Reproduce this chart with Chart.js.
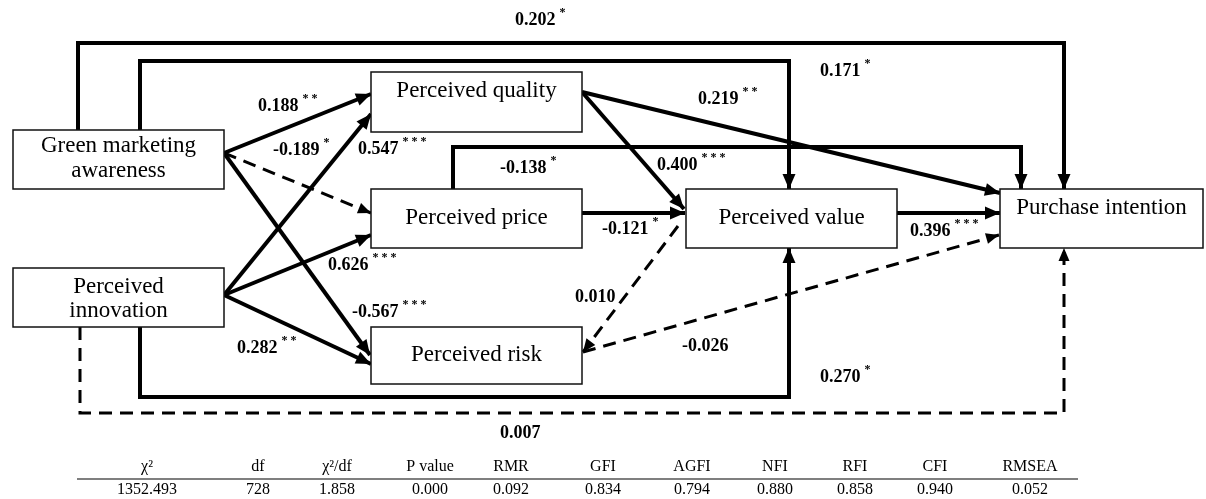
<!DOCTYPE html>
<html>
<head>
<meta charset="utf-8">
<script src="https://cdn.jsdelivr.net/npm/chart.js@4.4.0/dist/chart.umd.min.js"></script>
<style>
  html, body { margin: 0; padding: 0; background: #fff; }
  #wrap { width: 1206px; height: 499px; }
</style>
</head>
<body>
<div id="wrap"><canvas id="PathChart" width="1206" height="499"></canvas></div>
<script>
// constructs
const nodeNames = ['Green marketing\nawareness', 'Perceived\ninnovation', 'Perceived quality',
  'Perceived price', 'Perceived risk', 'Perceived value', 'Purchase intention'];

// standardized path coefficients and significance marks
const pathCoef = [0.202, 0.171, 0.188, -0.189, -0.567, 0.547, 0.626, 0.282, 0.270, 0.007,
  0.219, 0.400, -0.138, -0.121, 0.396, 0.010, -0.026];
const pathSig = ['*', '*', '**', '*', '***', '***', '***', '**', '*', '',
  '**', '***', '*', '*', '***', '', ''];

// model fit table
const fitLabels = ['χ²', 'df', 'χ²/df', 'P value', 'RMR', 'GFI', 'AGFI', 'NFI', 'RFI', 'CFI', 'RMSEA'];
const fitValues = ['1352.493', '728', '1.858', '0.000', '0.092', '0.834', '0.794', '0.880', '0.858', '0.940', '0.052'];

// ---- layout (canvas units) ----
const boxes = [
  { x: 13, y: 130, w: 211, h: 59, ty: [146, 171] },
  { x: 13, y: 268, w: 211, h: 59, ty: [287, 311] },
  { x: 371, y: 72, w: 211, h: 60, ty: [91] },
  { x: 371, y: 189, w: 211, h: 59, ty: [218] },
  { x: 371, y: 327, w: 211, h: 57, ty: [355] },
  { x: 686, y: 189, w: 211, h: 59, ty: [218] },
  { x: 1000, y: 189, w: 203, h: 59, ty: [208] },
];

const routes = [
  { pts: [[78,130],[78,43],[1064,43],[1064,189]], lx: 515, ly: 20 },
  { pts: [[140,130],[140,61],[789,61],[789,189]], lx: 820, ly: 71 },
  { pts: [[224,153],[371,94]], lx: 258, ly: 106 },
  { pts: [[224,153],[371,213]], lx: 273, ly: 150, dash: true },
  { pts: [[224,153],[370,355]], lx: 352, ly: 312 },
  { pts: [[224,295],[371,114]], lx: 358, ly: 149 },
  { pts: [[224,295],[371,235]], lx: 328, ly: 265 },
  { pts: [[224,295],[371,364]], lx: 237, ly: 348 },
  { pts: [[140,327],[140,397],[789,397],[789,248]], lx: 820, ly: 377 },
  { pts: [[80,327],[80,413],[1064,413],[1064,248]], lx: 500, ly: 433, dash: true },
  { pts: [[582,92],[1000,193]], lx: 698, ly: 99 },
  { pts: [[582,92],[684,209]], lx: 657, ly: 165 },
  { pts: [[453,189],[453,147],[1021,147],[1021,189]], lx: 500, ly: 168 },
  { pts: [[582,213],[685,213]], lx: 602, ly: 229 },
  { pts: [[897,213],[1000,213]], lx: 910, ly: 231 },
  { pts: [[678,226],[583,352]], lx: 575, ly: 297, dash: true },
  { pts: [[583,352],[999,235]], lx: 682, ly: 346, dash: true },
];

const fitX = [147, 258, 337, 430, 511, 603, 692, 775, 855, 935, 1030];

const pathDatasets = routes.map((r, i) => ({
  label: pathCoef[i].toFixed(3) + pathSig[i],
  data: r.pts.map(p => ({ x: p[0], y: p[1] })),
  showLine: true,
  borderColor: '#000',
  borderWidth: r.dash ? 3 : 4,
  borderDash: r.dash ? [13, 8] : [],
  pointRadius: 0,
  tension: 0,
  borderJoinStyle: 'miter',
  borderCapStyle: 'butt',
}));

const diagramPlugin = {
  id: 'diagram',
  beforeDraw(chart) {
    const c = chart.ctx;
    c.save();
    c.fillStyle = '#fff';
    c.fillRect(0, 0, chart.width, chart.height);
    c.restore();
  },
  afterDatasetsDraw(chart) {
    const c = chart.ctx;
    const xs = chart.scales.x, ys = chart.scales.y;
    const px = v => xs.getPixelForValue(v);
    const py = v => ys.getPixelForValue(v);
    c.save();

    // boxes
    boxes.forEach((b, i) => {
      const x0 = px(b.x), y0 = py(b.y), x1 = px(b.x + b.w), y1 = py(b.y + b.h);
      c.fillStyle = '#fff';
      c.fillRect(x0, y0, x1 - x0, y1 - y0);
      c.strokeStyle = '#111';
      c.lineWidth = 1.5;
      c.strokeRect(x0, y0, x1 - x0, y1 - y0);
      c.fillStyle = '#000';
      c.font = '23px "Liberation Serif", serif';
      c.textAlign = 'center';
      c.textBaseline = 'middle';
      nodeNames[i].split('\n').forEach((t, k) => {
        c.fillText(t, (x0 + x1) / 2, py(b.ty[k]));
      });
    });

    // arrow heads
    routes.forEach(r => {
      const n = r.pts.length;
      const ex = px(r.pts[n - 1][0]), ey = py(r.pts[n - 1][1]);
      const sx = px(r.pts[n - 2][0]), sy = py(r.pts[n - 2][1]);
      const a = Math.atan2(ey - sy, ex - sx);
      const len = r.dash ? 13 : 15, half = r.dash ? 5.5 : 6.5;
      c.beginPath();
      c.moveTo(ex, ey);
      c.lineTo(ex - len * Math.cos(a) + half * Math.sin(a), ey - len * Math.sin(a) - half * Math.cos(a));
      c.lineTo(ex - len * Math.cos(a) - half * Math.sin(a), ey - len * Math.sin(a) + half * Math.cos(a));
      c.closePath();
      c.fillStyle = '#000';
      c.fill();
    });

    // coefficient labels
    c.textAlign = 'left';
    c.textBaseline = 'middle';
    routes.forEach((r, i) => {
      const txt = pathCoef[i].toFixed(3);
      const x = px(r.lx), y = py(r.ly);
      c.font = 'bold 18px "Liberation Serif", serif';
      c.fillText(txt, x, y);
      if (pathSig[i]) {
        const w = c.measureText(txt).width;
        c.font = 'bold 12px "Liberation Serif", serif';
        c.fillText(pathSig[i].split('').join(' '), x + w + 4, y - 7);
      }
    });

    // fit table
    c.font = '16px "Liberation Serif", serif';
    c.textAlign = 'center';
    fitLabels.forEach((t, i) => {
      c.fillText(t, px(fitX[i]), py(467));
      c.fillText(fitValues[i], px(fitX[i]), py(490));
    });
    c.strokeStyle = '#555';
    c.lineWidth = 1.5;
    c.beginPath();
    c.moveTo(px(77), py(479));
    c.lineTo(px(1078), py(479));
    c.stroke();
    c.restore();
  }
};

const pathCtx = document.getElementById('PathChart').getContext('2d');
const PathChart = new Chart(pathCtx, {
  type: 'scatter',
  data: { datasets: pathDatasets },
  options: {
    responsive: false,
    animation: false,
    events: [],
    layout: { padding: 0, autoPadding: false },
    plugins: { legend: { display: false }, tooltip: { enabled: false } },
    scales: {
      x: { type: 'linear', min: 0, max: 1206, display: false },
      y: { type: 'linear', min: 0, max: 499, reverse: true, display: false },
    },
  },
  plugins: [diagramPlugin],
});
</script>
</body>
</html>
